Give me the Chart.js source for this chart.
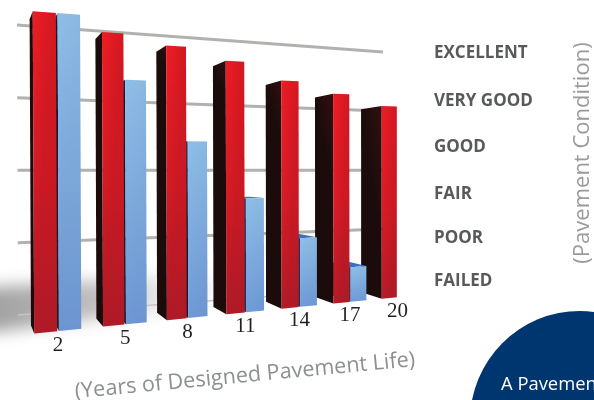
<!DOCTYPE html>
<html>
<head>
<meta charset="utf-8">
<title>Pavement condition</title>
<script src="https://cdn.jsdelivr.net/npm/chart.js@4"></script>
<style>
  html, body { margin: 0; padding: 0; background: #fff; overflow: hidden; }
  canvas { display: block; }
</style>
</head>
<body>
<canvas id="pavementChart" width="594" height="400"></canvas>
<script>
const years = ['2', '5', '8', '11', '14', '17', '20'];
const preservedCondition = [100, 95, 92, 88, 82, 78, 74];
const untreatedCondition = [100, 80, 60, 40, 25, 13, 0];
const conditionLabels = ['FAILED', 'POOR', 'FAIR', 'GOOD', 'VERY GOOD', 'EXCELLENT'];
const conditionTicks = [0, 0.94, 1.91, 2.94, 3.95, 5];

// flat chart area -> picture, one quad for the bar fronts and one for the back wall
const frontQuad = [[21, 10.3], [420, 41], [420, 294.9], [22.5, 334.6]];
const wallQuad = [[17, 25], [383, 52], [383, 288], [18, 315]];
const depthPoint = [-30, 170];
const depth = 0.05;

function homography(q) {
  const [[x0, y0], [x1, y1], [x2, y2], [x3, y3]] = q;
  const dx1 = x1 - x2, dx2 = x3 - x2, dx3 = x0 - x1 + x2 - x3;
  const dy1 = y1 - y2, dy2 = y3 - y2, dy3 = y0 - y1 + y2 - y3;
  const den = dx1 * dy2 - dx2 * dy1;
  const g = (dx3 * dy2 - dx2 * dy3) / den;
  const h = (dx1 * dy3 - dx3 * dy1) / den;
  const a = x1 - x0 + g * x1, b = x3 - x0 + h * x3;
  const d = y1 - y0 + g * y1, e = y3 - y0 + h * y3;
  return (s, t) => {
    const w = g * s + h * t + 1;
    return [(a * s + b * t + x0) / w, (d * s + e * t + y0) / w];
  };
}
const toFront = homography(frontQuad);
const toWall = homography(wallQuad);

function recede(p) {
  return [p[0] + depth * (depthPoint[0] - p[0]), p[1] + depth * (depthPoint[1] - p[1])];
}

function poly(ctx, pts, fill) {
  ctx.beginPath();
  pts.forEach((p, i) => (i ? ctx.lineTo(p[0], p[1]) : ctx.moveTo(p[0], p[1])));
  ctx.closePath();
  ctx.fillStyle = fill;
  ctx.fill();
}

function linear(ctx, a, b, colors) {
  const g = ctx.createLinearGradient(a[0], a[1], b[0], b[1]);
  colors.forEach((c, i) => g.addColorStop(i / (colors.length - 1), c));
  return g;
}

function drawBar(ctx, area, bar, ds) {
  const sx = v => (v - area.left) / area.width;
  const sy = v => (v - area.top) / area.height;
  const l = sx(bar.x - bar.width / 2), r = sx(bar.x + bar.width / 2);
  const tl = toFront(l, sy(bar.y)), tr = toFront(r, sy(bar.y));
  const br = toFront(r, sy(bar.base)), bl = toFront(l, sy(bar.base));
  const btl = recede(tl), btr = recede(tr), bbl = recede(bl);

  if (tl[1] > depthPoint[1]) poly(ctx, [tl, tr, btr, btl], ds.topColor);
  poly(ctx, [tl, bl, bbl, btl], linear(ctx, btl, tl, ds.sideColors));
  poly(ctx, [tl, tr, br, bl], linear(ctx, tl, bl, ds.frontColors));
  poly(ctx, [tl, tr, br, bl], linear(ctx, tl, tr, ['rgba(0,0,0,0)', 'rgba(40,0,10,' + ds.edgeShade + ')']));
}

const perspectivePlugin = {
  id: 'perspective',
  beforeDatasetsDraw(chart) {
    const { ctx, chartArea: area, scales } = chart;
    ctx.save();

    // soft shadow on the floor
    ctx.filter = 'blur(8px)';
    poly(ctx, [[-20, 288], [300, 268], [300, 292], [-20, 334]],
      linear(ctx, [0, 0], [270, 0], ['rgba(0,0,0,0.36)', 'rgba(0,0,0,0.26)', 'rgba(0,0,0,0.06)', 'rgba(0,0,0,0)']));
    ctx.filter = 'none';

    // back wall grid
    ctx.lineCap = 'butt';
    scales.y.ticks.forEach(tick => {
      const t = (scales.y.getPixelForValue(tick.value) - area.top) / area.height;
      const a = toWall(0, t), b = toWall(1, t);
      ctx.beginPath();
      ctx.moveTo(a[0], a[1]);
      ctx.lineTo(b[0], b[1]);
      ctx.strokeStyle = tick.value === 0 ? '#c4c4c4' : '#b1b1af';
      ctx.lineWidth = tick.value === 0 ? 1.5 : 3;
      ctx.stroke();
    });

    // far bars first, the blue one behind its red one
    const sets = chart.data.datasets;
    for (let i = years.length - 1; i >= 0; i--) {
      for (let d = sets.length - 1; d >= 0; d--) {
        if (sets[d].data[i] > 0) drawBar(ctx, area, chart.getDatasetMeta(d).data[i], sets[d]);
      }
    }

    // year labels under the bar pairs
    ctx.font = '21px "Liberation Serif"';
    ctx.fillStyle = '#231f20';
    ctx.textAlign = 'center';
    ctx.textBaseline = 'middle';
    years.forEach((year, i) => {
      const p = toFront(
        (scales.x.getPixelForValue(i) - area.left) / area.width,
        (scales.y.getPixelForValue(0) - area.top) / area.height
      );
      ctx.fillText(year, p[0], p[1] + 14);
    });

    // axis titles
    ctx.fillStyle = '#8d8f91';
    ctx.font = '21.6px "Open Sans"';
    ctx.save();
    ctx.translate(245, 376);
    ctx.rotate(-0.094);
    ctx.fillText('(Years of Designed Pavement Life)', 0, 0);
    ctx.restore();
    ctx.save();
    ctx.translate(583, 153);
    ctx.rotate(-Math.PI / 2);
    ctx.fillStyle = '#9a9b9d';
    ctx.font = '22px "Open Sans"';
    ctx.fillText('(Pavement Condition)', 0, 0);
    ctx.restore();

    // corner badge
    ctx.beginPath();
    ctx.arc(580, 421, 110, 0, Math.PI * 2);
    ctx.fillStyle = '#003670';
    ctx.fill();
    ctx.fillStyle = '#ffffff';
    ctx.font = '18.4px "Open Sans"';
    ctx.textAlign = 'left';
    ctx.textBaseline = 'alphabetic';
    ctx.fillText('A Pavement', 501, 390);

    ctx.restore();
    return false;
  }
};

new Chart(document.getElementById('pavementChart'), {
  type: 'bar',
  data: {
    labels: years,
    datasets: [
      {
        label: 'Preserved',
        data: preservedCondition,
        backgroundColor: '#ed1c24',
        frontColors: ['#ef1c25', '#e61d27', '#c41e2b'],
        sideColors: ['#1b0c0b', '#340f10'],
        topColor: '#7a1016',
        edgeShade: 0.14
      },
      {
        label: 'Untreated',
        data: untreatedCondition,
        backgroundColor: '#8bbbe6',
        frontColors: ['#8ebee8', '#6e9ad7'],
        sideColors: ['#0c1a30', '#16335c'],
        topColor: '#3d70bc',
        edgeShade: 0.03
      }
    ]
  },
  plugins: [perspectivePlugin],
  options: {
    responsive: false,
    animation: false,
    events: [],
    layout: { padding: 0 },
    datasets: { bar: { categoryPercentage: 0.7, barPercentage: 0.93 } },
    plugins: { legend: { display: false }, tooltip: { enabled: false } },
    scales: {
      x: { display: false },
      y: { display: false, min: 0, max: 100, ticks: { stepSize: 25 } },
      yCondition: {
        position: 'right',
        min: -2.294,
        max: 5.862,
        afterBuildTicks(scale) {
          scale.ticks = conditionTicks.map(value => ({ value }));
        },
        afterFit(scale) {
          scale.width = 164;
        },
        grid: { display: false, drawTicks: false },
        border: { display: false },
        ticks: {
          autoSkip: false,
          crossAlign: 'near',
          padding: 4,
          color: '#58595b',
          font: { family: '"Open Sans"', size: 17, weight: 'bold' },
          callback: (value, i) => conditionLabels[i]
        }
      }
    }
  }
});
</script>
</body>
</html>
